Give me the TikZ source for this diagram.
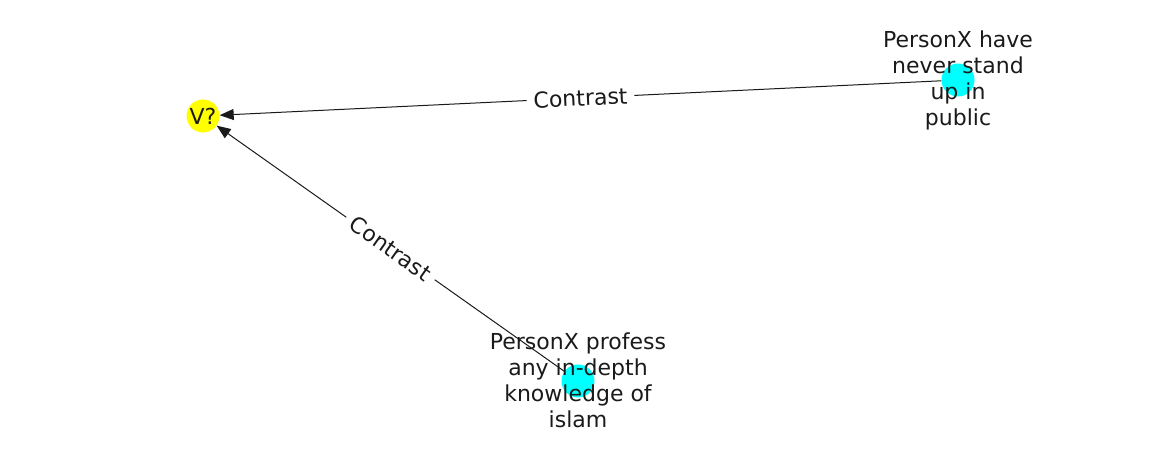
\documentclass[tikz,border=0pt]{standalone}
\usepackage{fontspec}
\setmainfont{DejaVu Sans}
\usetikzlibrary{arrows.meta}
\definecolor{nodecyan}{RGB}{0,255,255}
\definecolor{nodeyellow}{RGB}{255,255,0}
\definecolor{ink}{RGB}{26,26,26}
\begin{document}
\begin{tikzpicture}[x=1pt,y=1pt,
  vnode/.style={circle,inner sep=0pt,minimum size=33pt,draw=none},
  lbl/.style={font=\fontsize{22}{26}\selectfont,align=center,text=ink,inner sep=0pt},
  edge/.style={draw=ink,line width=1pt,-{Triangle[length=14pt,width=11pt]}},
  elbl/.style={font=\fontsize{22}{26}\selectfont,fill=white,inner xsep=7pt,inner ysep=3pt,text=ink}]
\useasboundingbox (0,0) rectangle (1162,462);
\node[vnode,fill=nodeyellow] (v) at (203,346) {};
\node[vnode,fill=nodecyan] (a) at (958,382) {};
\node[vnode,fill=nodecyan] (b) at (578,81) {};
\draw[edge] (a) -- node[elbl,sloped] {Contrast} (v);
\draw[edge] (b) -- node[elbl,sloped] {Contrast} (v);
\node[lbl] (vt) at (v) {V?};
\node[lbl] (at) at (958,382) {PersonX have\\never stand\\up in\\public};
\node[lbl] (bt) at (578,82) {PersonX profess\\any in-depth\\knowledge of\\islam};
\end{tikzpicture}
\end{document}
